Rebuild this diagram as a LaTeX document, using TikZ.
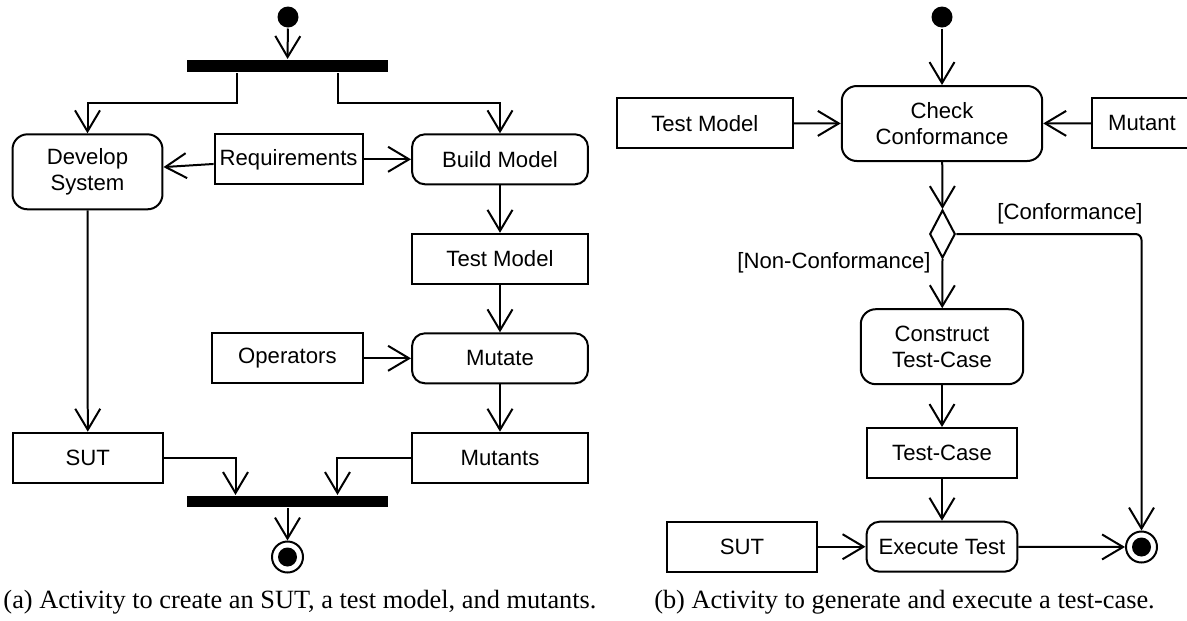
\documentclass[tikz,border=0pt]{standalone}
\usepackage{fontspec}
\setmainfont{Liberation Sans}
\newfontfamily\capfont{Liberation Serif}
\usetikzlibrary{arrows.meta,shapes.geometric}

\tikzset{
	actnode/.style={draw,rounded corners=0.26cm,align=center,inner sep=0pt,minimum height=1cm},
	objnode/.style={draw,rectangle,align=center,inner sep=0pt,minimum height=1cm},
	barnode/.style={fill=black,inner sep=0pt,minimum width=4.04cm,minimum height=0.24cm},
	startnode/.style={circle,fill=black,inner sep=0pt,minimum size=0.42cm},
	endnode/.style={circle,draw,fill=white,inner sep=0pt,minimum size=0.62cm,
		path picture={\fill[black] (path picture bounding box.center) circle[radius=0.19cm];}},
	decnode/.style={diamond,draw,inner sep=0pt,minimum width=0.51cm,minimum height=0.96cm},
	guardtext/.style={inner sep=0pt},
	captext/.style={font=\capfont\fontsize{15}{18}\selectfont,inner sep=0pt,anchor=base}
}

\begin{document}
\begin{tikzpicture}[x=0.02cm,y=-0.02cm,line width=0.04cm,
	>={Straight Barb[length=0.42cm,width=0.5cm]},
	font=\fontsize{12.6}{15.1}\selectfont]
\useasboundingbox (0,0) rectangle (1187,620);

% (a) SUT, test model and mutants
\node[startnode] (start1) at (288,17) {};
\node[barnode] (fork1) at (287.5,66) {};
\node[actnode,minimum width=3cm,minimum height=1.5cm,rounded corners=0.3cm] (develop) at (87.5,171.8) {Develop\\System};
\node[objnode,minimum width=2.96cm] (req) at (288.6,159.3) {Requirements};
\node[actnode,minimum width=3.52cm] (build) at (500,159.3) {Build Model};
\node[objnode,minimum width=3.52cm] (tmodel1) at (500,258.8) {Test Model};
\node[objnode,minimum width=3.01cm] (ops) at (287.4,358.3) {Operators};
\node[actnode,minimum width=3.52cm] (mutate) at (500,358.3) {Mutate};
\node[objnode,minimum width=3.52cm] (mutants) at (500,457.7) {Mutants};
\node[objnode,minimum width=3cm] (sut1) at (87.8,457.7) {SUT};
\node[barnode,minimum height=0.23cm] (join1) at (287.5,501.7) {};
\node[endnode] (final1) at (287.5,557) {};

\draw[->] (start1) -- (fork1);
\draw[->] ([xshift=-1.01cm]fork1.south) -- ++(0,30) -| (develop.north);
\draw[->] ([xshift=1.01cm]fork1.south) -- ++(0,30) -| (build.north);
\draw[->] (req) -- (develop);
\draw[->] (req) -- (build);
\draw[->] (develop) -- (sut1);
\draw[->] (build) -- (tmodel1);
\draw[->] (tmodel1) -- (mutate);
\draw[->] (ops) -- (mutate);
\draw[->] (mutate) -- (mutants);
\draw[->] (sut1.east) -| ([xshift=-1.04cm]join1.north);
\draw[->] (mutants.west) -| ([xshift=1.0cm]join1.north);
\draw[->] (join1) -- (final1);

\node[captext] (capa) at (300,608) {(a) Activity to create an SUT, a test model, and mutants.};

% (b) generate and execute a test-case
\node[startnode] (start2) at (942,17) {};
\node[actnode,minimum width=4.01cm,minimum height=1.5cm,rounded corners=0.3cm] (check) at (942,123.5) {Check\\Conformance};
\node[objnode,minimum width=3.52cm] (tmodel2) at (704.8,123.3) {Test Model};
\node[objnode,minimum width=2cm] (mutant) at (1142,123.3) {Mutant};
\node[decnode] (dec) at (942.5,234) {};
\node[actnode,minimum width=3.25cm,minimum height=1.5cm,rounded corners=0.3cm] (construct) at (942,346.7) {Construct\\Test-Case};
\node[objnode,minimum width=3.02cm] (tcase) at (942,453) {Test-Case};
\node[actnode,minimum width=3.02cm] (execute) at (942,546.7) {Execute Test};
\node[objnode,minimum width=3.02cm] (sut2) at (742,546.7) {SUT};
\node[endnode] (final2) at (1141.5,547) {};

\node[guardtext] (gconf) at (1070,214) {[Conformance]};
\node[guardtext] (gnon) at (834,263) {[Non-Conformance]};

\draw[->] (start2) -- (check);
\draw[->] (tmodel2) -- (check);
\draw[->] (mutant) -- (check);
\draw[->] (check) -- (dec.north);
\draw[->] (dec.south) -- (construct);
\draw[->,rounded corners=0.12cm] (dec.east) -| (final2.north);
\draw[->] (construct) -- (tcase);
\draw[->] (tcase) -- (execute);
\draw[->] (sut2) -- (execute);
\draw[->] (execute) -- (final2);

\node[captext] (capb) at (904.5,608) {(b) Activity to generate and execute a test-case.};

\end{tikzpicture}
\end{document}
